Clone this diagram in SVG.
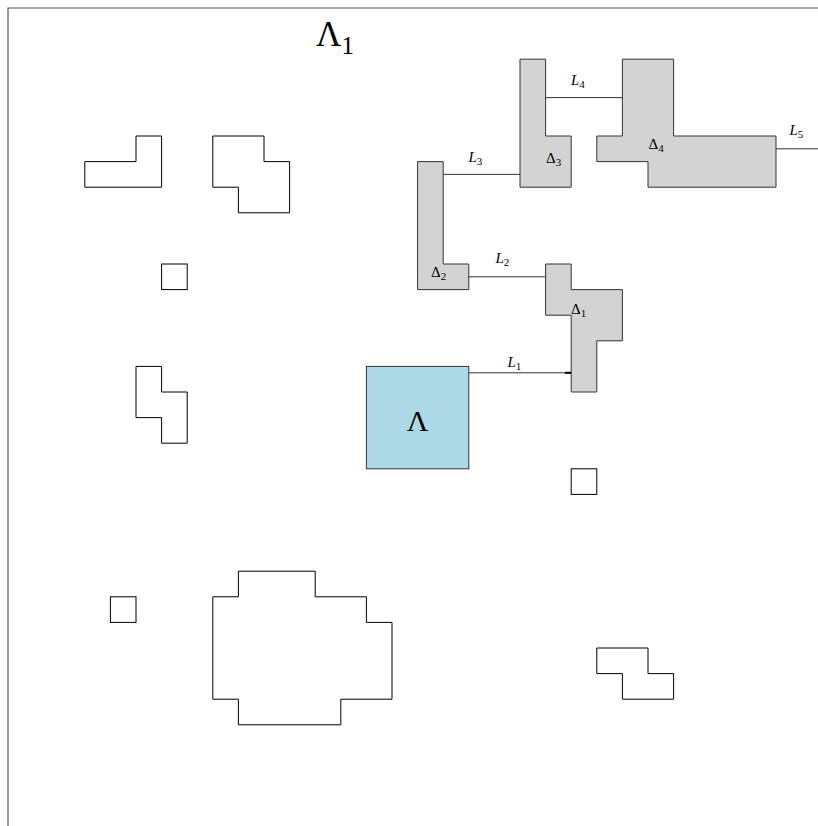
<svg xmlns="http://www.w3.org/2000/svg" width="818" height="826" viewBox="0 0 818 826">
<style>
.cl{fill:#fff;stroke:#000;stroke-width:1}
.dl{fill:#d3d3d3;stroke:#333;stroke-width:1}
.lam{fill:#add8e6;stroke:#333;stroke-width:1}
.ln{stroke:#333;stroke-width:1;fill:none}
.fr{stroke:#555;stroke-width:1.2;fill:none}
text{font-family:"Liberation Serif","DejaVu Serif",serif;fill:#000}
.lb{font-size:15px}
.it{font-style:italic}
.sb{font-size:11px}
</style>
<rect width="818" height="826" fill="#fff"/>
<g id="frame"><path class="fr" d="M8,826 V8 H818"/></g>
<g id="c1"><polygon class="cl" points="84.8,161.6 136,161.6 136,136 161.6,136 161.6,187.2 84.8,187.2"/></g>
<g id="c2"><polygon class="cl" points="212.8,136 264,136 264,161.6 289.6,161.6 289.6,212.8 238.4,212.8 238.4,187.2 212.8,187.2"/></g>
<g id="c3"><rect class="cl" x="161.6" y="264" width="25.6" height="25.6"/></g>
<g id="c4"><polygon class="cl" points="136,366.4 161.6,366.4 161.6,392 187.2,392 187.2,443.2 161.6,443.2 161.6,417.6 136,417.6"/></g>
<g id="c5"><rect class="cl" x="571.2" y="468.8" width="25.6" height="25.6"/></g>
<g id="c6"><rect class="cl" x="110.4" y="596.8" width="25.6" height="25.6"/></g>
<g id="c7"><polygon class="cl" points="238.4,571.2 315.2,571.2 315.2,596.8 366.4,596.8 366.4,622.4 392,622.4 392,699.2 340.8,699.2 340.8,724.8 238.4,724.8 238.4,699.2 212.8,699.2 212.8,596.8 238.4,596.8"/></g>
<g id="c8"><polygon class="cl" points="596.8,648 648,648 648,673.6 673.6,673.6 673.6,699.2 622.4,699.2 622.4,673.6 596.8,673.6"/></g>
<g id="Lambda"><rect class="lam" x="366.4" y="366.4" width="102.4" height="102.4"/><text x="417.6" y="431" font-size="30" text-anchor="middle">Λ</text></g>
<g id="Delta1"><polygon class="dl" points="545.6,264 571.2,264 571.2,289.6 622.4,289.6 622.4,340.8 596.8,340.8 596.8,392 571.2,392 571.2,315.2 545.6,315.2"/><text class="lb" x="571" y="314.3">Δ<tspan class="sb" dy="3">1</tspan></text></g>
<g id="Delta2"><polygon class="dl" points="417.6,161.6 443.2,161.6 443.2,264 468.8,264 468.8,289.6 417.6,289.6"/><text class="lb" x="431" y="276.7">Δ<tspan class="sb" dy="3">2</tspan></text></g>
<g id="Delta3"><polygon class="dl" points="520,59.2 545.6,59.2 545.6,136 571.2,136 571.2,187.2 520,187.2"/><text class="lb" x="546" y="162.7">Δ<tspan class="sb" dy="3">3</tspan></text></g>
<g id="Delta4"><polygon class="dl" points="622.4,59.2 673.6,59.2 673.6,136 776,136 776,187.2 648,187.2 648,161.6 596.8,161.6 596.8,136 622.4,136"/><text class="lb" x="648.5" y="149">Δ<tspan class="sb" dy="3">4</tspan></text></g>
<g id="connectors">
<line class="ln" x1="468.8" y1="372.8" x2="571.2" y2="372.8"/>
<line x1="565" y1="372.8" x2="571.2" y2="372.8" stroke="#000" stroke-width="2"/>
<line class="ln" x1="468.8" y1="276.8" x2="545.6" y2="276.8"/>
<line class="ln" x1="443.2" y1="174.4" x2="520" y2="174.4"/>
<line class="ln" x1="545.6" y1="97.6" x2="622.4" y2="97.6"/>
<line class="ln" x1="776" y1="148.8" x2="818" y2="148.8"/>
<text class="lb" x="507.5" y="366.7"><tspan class="it">L</tspan><tspan class="sb" dy="3">1</tspan></text>
<text class="lb" x="495.5" y="263.3"><tspan class="it">L</tspan><tspan class="sb" dy="3">2</tspan></text>
<text class="lb" x="468.5" y="161.7"><tspan class="it">L</tspan><tspan class="sb" dy="3">3</tspan></text>
<text class="lb" x="571" y="85"><tspan class="it">L</tspan><tspan class="sb" dy="3">4</tspan></text>
<text class="lb" x="789.5" y="135"><tspan class="it">L</tspan><tspan class="sb" dy="3">5</tspan></text>
</g>
<g id="Lambda1"><text x="316" y="46" font-size="35">Λ<tspan font-size="25" dy="8">1</tspan></text></g>
</svg>
